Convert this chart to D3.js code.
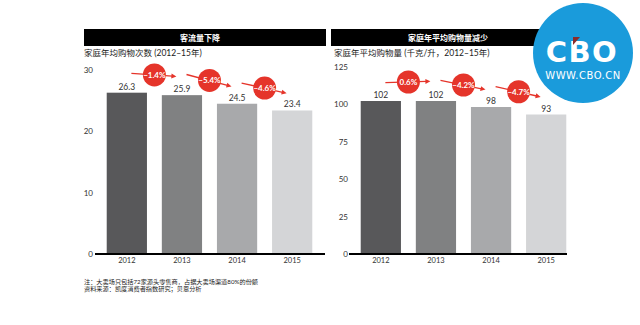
<!DOCTYPE html>
<html><head><meta charset="utf-8">
<script src="https://cdn.jsdelivr.net/npm/d3@7"></script>
<style>
html,body{margin:0;padding:0;background:#fff;}
svg{display:block;font-family:Lato,"Noto Sans CJK SC",sans-serif;}
</style></head>
<body>
<svg id="c" width="640" height="325"></svg>
<script>
// ---- data ----
const years = ["2012", "2013", "2014", "2015"];
const visits = [26.3, 25.9, 24.5, 23.4];
const visitsChange = [-1.4, -5.4, -4.6];
const visitsTicks = [0, 10, 20, 30];
const volume = [102, 102, 98, 93];
const volumeChange = [0.6, -4.2, -4.7];
const volumeTicks = [0, 25, 50, 75, 100, 125];
const barColors = ["#58585a", "#808182", "#a8a9ab", "#d4d5d7"];
const leftTitle = "客流量下降";
const leftSub = "家庭年均购物次数 (2012–15年)";
const rightTitle = "家庭年平均购物量减少";
const rightSub = "家庭年平均购物量 (千克/升，2012–15年)";
const notes = ["注：大卖场只包括72家源头零售商，占据大卖场渠道80%的份额", "资料来源：凯度消费者指数研究；贝恩分析"];

const svg = d3.select("#c");
const red = "#e5342a";
const y0 = 254;

function panel(o) {
  const g = svg.append("g");
  // header
  g.append("rect").attr("x", o.hx0).attr("y", 29).attr("width", o.hx1 - o.hx0).attr("height", 17).attr("fill", "#000");
  g.append("text").attr("x", (o.hx0 + o.hx1) / 2 - 5).attr("y", 40.5).attr("text-anchor", "middle")
    .attr("fill", "#fff").attr("font-size", 8).attr("font-weight", "bold").text(o.title);
  g.append("text").attr("x", o.subX).attr("y", 56).attr("fill", "#222").attr("font-size", 8.5).text(o.sub);

  const x = d3.scaleBand().domain(years).range(o.xr).paddingInner(0.27).paddingOuter(0.14);
  const y = d3.scaleLinear().domain([0, o.max]).range([y0, o.ytop]);

  // y axis labels
  const ax = d3.axisLeft(y).tickValues(o.ticks).tickSize(0).tickPadding(0);
  const ag = g.append("g").attr("transform", `translate(${o.axX},0)`).call(ax);
  ag.select(".domain").remove();
  ag.selectAll("text").attr("font-size", 8).attr("fill", "#333").attr("font-family", "Lato,sans-serif");

  // bars
  g.selectAll("rect.bar").data(o.values).enter().append("rect").attr("class", "bar")
    .attr("x", (d, i) => x(years[i])).attr("y", d => y(d))
    .attr("width", x.bandwidth()).attr("height", d => y0 - y(d))
    .attr("fill", (d, i) => barColors[i]);
  g.selectAll("text.val").data(o.values).enter().append("text").attr("class", "val")
    .attr("x", (d, i) => x(years[i]) + x.bandwidth() / 2).attr("y", d => y(d) - 3)
    .attr("text-anchor", "middle").attr("font-size", 8.5).attr("fill", "#333")
    .text(d => d);

  // baseline
  g.append("line").attr("x1", o.bx0).attr("x2", o.bx1).attr("y1", y0).attr("y2", y0)
    .attr("stroke", "#000").attr("stroke-width", 2);
  // x axis labels
  const xa = d3.axisBottom(x).tickSize(0).tickPadding(0);
  const xg = g.append("g").attr("transform", `translate(0,${y0 + 9})`).call(xa);
  xg.select(".domain").remove();
  xg.selectAll("text").attr("font-size", 7.5).attr("fill", "#333").attr("dy", "0").attr("font-family", "Lato,sans-serif");

  // change markers
  o.changes.forEach((c, i) => {
    const cx = (x(years[i]) + x(years[i + 1]) + x.bandwidth()) / 2;
    const cy = (y(o.values[i]) + y(o.values[i + 1])) / 2 - 19;
    const dy = -c * 2.2;
    const x1 = cx - 23, x2 = cx + 22, ya = cy - dy / 2, yb = cy + dy / 2;
    g.append("line").attr("x1", x1).attr("y1", ya).attr("x2", x2 - 4).attr("y2", yb - dy * 4 / 45)
      .attr("stroke", red).attr("stroke-width", 1.3);
    const ang = Math.atan2(yb - ya, x2 - x1);
    const hl = 5, hw = 2.5;
    const p = [[x2, yb],
      [x2 - hl * Math.cos(ang) + hw * Math.sin(ang), yb - hl * Math.sin(ang) - hw * Math.cos(ang)],
      [x2 - hl * Math.cos(ang) - hw * Math.sin(ang), yb - hl * Math.sin(ang) + hw * Math.cos(ang)]];
    g.append("polygon").attr("points", p.map(q => q.join(",")).join(" ")).attr("fill", red);
    g.append("circle").attr("cx", cx).attr("cy", cy).attr("r", 11.5).attr("fill", red);
    g.append("text").attr("x", cx).attr("y", cy + 3).attr("text-anchor", "middle")
      .attr("fill", "#fff").attr("font-size", 8).attr("font-weight", "bold")
      .text((c < 0 ? "−" : "") + Math.abs(c).toFixed(1) + "%");
  });
}

panel({hx0: 84, hx1: 326, subX: 84, title: leftTitle, sub: leftSub, xr: [99, 320], max: 30, ytop: 70,
  ticks: visitsTicks, axX: 93, values: visits, changes: visitsChange, bx0: 95, bx1: 325});
panel({hx0: 331, hx1: 575, subX: 334, title: rightTitle, sub: rightSub, xr: [353, 574], max: 125, ytop: 66.5,
  ticks: volumeTicks, axX: 348, values: volume, changes: volumeChange, bx0: 349, bx1: 567});

// notes
svg.selectAll("text.note").data(notes).enter().append("text").attr("class", "note")
  .attr("x", 84).attr("y", (d, i) => 284 + i * 7).attr("font-size", 6.2).attr("fill", "#222").text(d => d);

// watermark logo
const lg = svg.append("g");
lg.append("circle").attr("cx", 583).attr("cy", 53).attr("r", 50).attr("fill", "#1a9bdb");
lg.append("text").attr("x", 582).attr("y", 62).attr("text-anchor", "middle").attr("fill", "#fff")
  .attr("font-family", "DejaVu Sans").attr("font-weight", "bold").attr("font-size", 29).attr("letter-spacing", 1.5).text("CBO");
lg.append("polygon").attr("points", "573,37 580,37 573,45").attr("fill", "#8b2b2b");
lg.append("text").attr("x", 583).attr("y", 78.5).attr("text-anchor", "middle").attr("fill", "#fff")
  .attr("font-family", "DejaVu Sans").attr("font-size", 10).attr("letter-spacing", 0.5).text("WWW.CBO.CN");
</script>
</body></html>
